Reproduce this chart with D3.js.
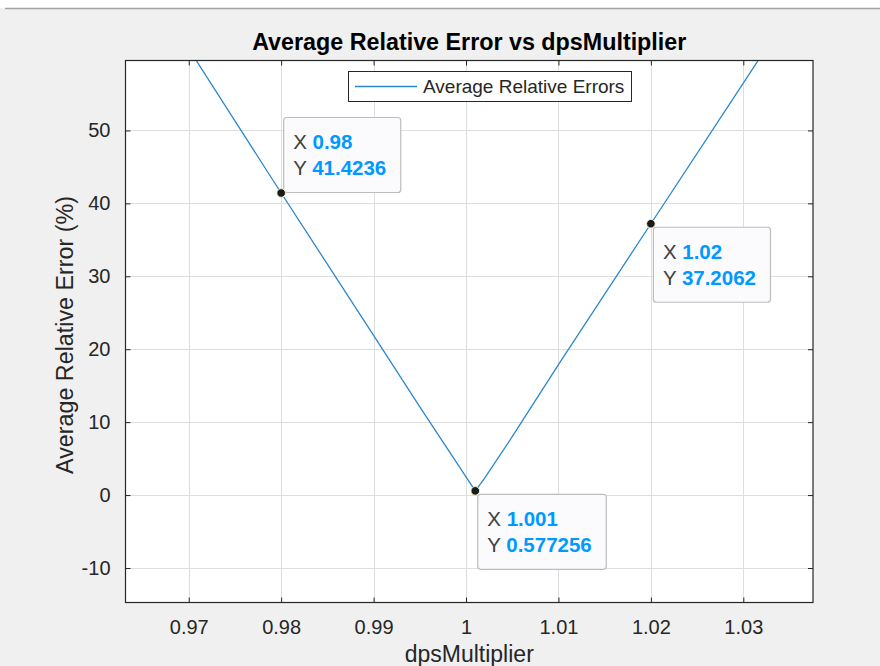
<!DOCTYPE html>
<html>
<head>
<meta charset="utf-8">
<script src="https://cdn.jsdelivr.net/npm/d3@7/dist/d3.min.js"></script>
<style>
  html, body { margin: 0; padding: 0; background: #f0f0f0; }
  svg { display: block; }
  text { font-family: "Liberation Sans", Arial, Helvetica, sans-serif; }
</style>
</head>
<body>
<svg id="chart" width="880" height="666"></svg>
<script>
// Sweep of the dps multiplier and the resulting average relative error (%)
const dpsMultiplier = [0.96, 0.97, 0.98, 0.99, 0.995, 1.0, 1.001, 1.002, 1.005, 1.01, 1.02, 1.03, 1.04];
const avgRelError   = [81.0, 61.2, 41.4236, 21.9, 12.1, 2.5, 0.577256, 2.3, 8.0, 17.9, 37.2062, 56.5, 75.8];

// Axis ticks
const xTicks = [0.97, 0.98, 0.99, 1.0, 1.01, 1.02, 1.03];
const xTickLabels = ["0.97", "0.98", "0.99", "1", "1.01", "1.02", "1.03"];
const yTicks = [-10, 0, 10, 20, 30, 40, 50];
const yTickLabels = ["-10", "0", "10", "20", "30", "40", "50"];

// Data tips
const tipX = [0.98, 1.001, 1.02];
const tipY = [41.4236, 0.577256, 37.2062];
const tipXLabels = ["0.98", "1.001", "1.02"];
const tipYLabels = ["41.4236", "0.577256", "37.2062"];
const tipAbove = [true, false, false];

const titleText = "Average Relative Error vs dpsMultiplier";
const xLabelText = "dpsMultiplier";
const yLabelText = "Average Relative Error (%)";
const legendText = "Average Relative Errors";

const svg = d3.select("#chart");
const W = 880, H = 666;
const plot = { left: 125.5, top: 60.5, right: 813, bottom: 602.5 };

const x = d3.scaleLinear().domain([0.96316, 1.03754]).range([plot.left, plot.right]);
const y = d3.scaleLinear().domain([-14.73, 59.59]).range([plot.bottom, plot.top]);

const ink = "#262626";
const lineColor = "#2a88cf";

// Figure background with the window strip on top
svg.append("rect").attr("width", W).attr("height", H).attr("fill", "#f0f0f0");
svg.append("rect").attr("width", W).attr("height", 8).attr("fill", "#ffffff");
svg.append("line").attr("x1", 5).attr("x2", W).attr("y1", 8.5).attr("y2", 8.5)
  .attr("stroke", "#a3a3a3").attr("stroke-width", 1.5);

// Axes area
svg.append("rect")
  .attr("x", plot.left).attr("y", plot.top)
  .attr("width", plot.right - plot.left).attr("height", plot.bottom - plot.top)
  .attr("fill", "#ffffff");

svg.append("defs").append("clipPath").attr("id", "plotClip")
  .append("rect")
  .attr("x", plot.left).attr("y", plot.top)
  .attr("width", plot.right - plot.left).attr("height", plot.bottom - plot.top);

// Grid
const grid = svg.append("g").attr("stroke", "#dedede").attr("stroke-width", 1);
grid.selectAll("line.gx").data(xTicks).join("line")
  .attr("x1", d => Math.round(x(d)) + 0.5).attr("x2", d => Math.round(x(d)) + 0.5)
  .attr("y1", plot.top).attr("y2", plot.bottom);
grid.selectAll("line.gy").data(yTicks).join("line")
  .attr("y1", d => Math.round(y(d)) + 0.5).attr("y2", d => Math.round(y(d)) + 0.5)
  .attr("x1", plot.left).attr("x2", plot.right);

// Axes with inward ticks on all four sides
const tickLen = 5;
const fmtX = (d, i) => xTickLabels[i];
const fmtY = (d, i) => yTickLabels[i];

const gBottom = svg.append("g").attr("transform", `translate(0,${plot.bottom})`)
  .call(d3.axisBottom(x).tickValues(xTicks).tickFormat(fmtX).tickSizeInner(-tickLen).tickSizeOuter(0).tickPadding(17));
const gTop = svg.append("g").attr("transform", `translate(0,${plot.top})`)
  .call(d3.axisTop(x).tickValues(xTicks).tickFormat("").tickSizeInner(-tickLen).tickSizeOuter(0));
const gLeft = svg.append("g").attr("transform", `translate(${plot.left},0)`)
  .call(d3.axisLeft(y).tickValues(yTicks).tickFormat(fmtY).tickSizeInner(-tickLen).tickSizeOuter(0).tickPadding(15));
const gRight = svg.append("g").attr("transform", `translate(${plot.right},0)`)
  .call(d3.axisRight(y).tickValues(yTicks).tickFormat("").tickSizeInner(-tickLen).tickSizeOuter(0));

[gBottom, gTop, gLeft, gRight].forEach(g => {
  g.select(".domain").remove();
  g.selectAll(".tick line").attr("stroke", ink).attr("stroke-width", 1);
  g.selectAll(".tick text").attr("fill", ink)
    .style("font-family", '"Liberation Sans", Arial, sans-serif')
    .style("font-size", "20px");
});

// Data line
svg.append("path")
  .datum(dpsMultiplier.map((d, i) => [d, avgRelError[i]]))
  .attr("clip-path", "url(#plotClip)")
  .attr("fill", "none")
  .attr("stroke", lineColor)
  .attr("stroke-width", 1.3)
  .attr("d", d3.line().x(d => x(d[0])).y(d => y(d[1])));

// Axes box
svg.append("rect")
  .attr("x", plot.left).attr("y", plot.top)
  .attr("width", plot.right - plot.left).attr("height", plot.bottom - plot.top)
  .attr("fill", "none").attr("stroke", ink).attr("stroke-width", 1.2);

// Title and axis labels
svg.append("text")
  .attr("x", (plot.left + plot.right) / 2).attr("y", 50)
  .attr("text-anchor", "middle").attr("fill", "#000")
  .style("font-size", "23.3px").style("font-weight", "bold")
  .text(titleText);

svg.append("text")
  .attr("x", (plot.left + plot.right) / 2).attr("y", 662)
  .attr("text-anchor", "middle").attr("fill", ink)
  .style("font-size", "23px")
  .text(xLabelText);

svg.append("text")
  .attr("transform", `translate(73,${(plot.top + plot.bottom) / 2 + 3.5}) rotate(-90)`)
  .attr("text-anchor", "middle").attr("fill", ink)
  .style("font-size", "23.3px")
  .text(yLabelText);

// Legend
const legend = svg.append("g");
legend.append("rect")
  .attr("x", 348.5).attr("y", 71.5).attr("width", 283).attr("height", 30)
  .attr("fill", "#ffffff").attr("stroke", ink).attr("stroke-width", 1);
legend.append("line")
  .attr("x1", 355).attr("x2", 417).attr("y1", 86.5).attr("y2", 86.5)
  .attr("stroke", lineColor).attr("stroke-width", 1.3);
legend.append("text")
  .attr("x", 423).attr("y", 93).attr("fill", ink)
  .style("font-size", "19px")
  .text(legendText);

// Data tips
tipX.forEach((tx, i) => {
  const px = x(tx), py = y(tipY[i]);
  const g = svg.append("g");
  const box = g.append("rect");
  const t = g.append("text").style("font-size", "20.5px");
  t.append("tspan").attr("fill", "#404040").text("X ");
  t.append("tspan").attr("fill", "#0099ff").style("font-weight", "bold").text(tipXLabels[i]);
  const t2 = g.append("text").style("font-size", "20.5px");
  t2.append("tspan").attr("fill", "#404040").text("Y ");
  t2.append("tspan").attr("fill", "#0099ff").style("font-weight", "bold").text(tipYLabels[i]);

  const wText = Math.max(t.node().getComputedTextLength(), t2.node().getComputedTextLength());
  const bw = wText + 24, bh = 75;
  const bx = px + 2;
  const by = tipAbove[i] ? py - 1 - bh : py + 3;
  box.attr("x", bx + 0.5).attr("y", by + 0.5).attr("width", bw).attr("height", bh)
    .attr("rx", 3).attr("fill", "#fbfbfe").attr("stroke", "#bdbdbd").attr("stroke-width", 1.2);
  t.attr("x", bx + 10).attr("y", by + 32);
  t2.attr("x", bx + 10).attr("y", by + 58);

  svg.append("circle").attr("cx", px).attr("cy", py).attr("r", 4.3)
    .attr("fill", "#1a1a1a").attr("stroke", "#f3efc6").attr("stroke-width", 1);
});
</script>
</body>
</html>
